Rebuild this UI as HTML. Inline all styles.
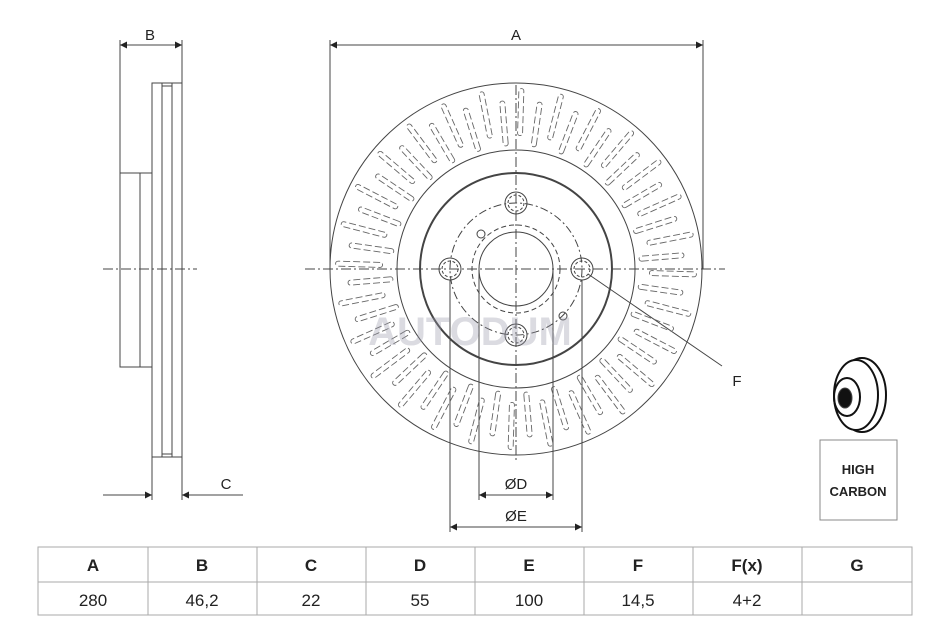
<!DOCTYPE html>
<html><head><meta charset="utf-8"><style>
body{margin:0;background:#fff;width:950px;height:634px;overflow:hidden}
svg{display:block}
text{font-family:"Liberation Sans",Arial,sans-serif;fill:#222}
</style></head><body>
<svg id="s" width="950" height="634" viewBox="0 0 950 634" xmlns="http://www.w3.org/2000/svg">
<defs><marker id="ar" viewBox="0 0 10 10" refX="10" refY="5" markerWidth="10" markerHeight="7" orient="auto-start-reverse" markerUnits="userSpaceOnUse"><path d="M0,0L10,5L0,10z" fill="#222"/></marker></defs>
<g stroke="#444" stroke-width="1" fill="none">
<!-- side view -->
<line x1="120" y1="40" x2="120" y2="173"/><line x1="182" y1="40" x2="182" y2="83"/>
<line x1="120" y1="45" x2="182" y2="45" marker-start="url(#ar)" marker-end="url(#ar)"/>
<rect x="152" y="83" width="30" height="374"/>
<line x1="162" y1="83" x2="162" y2="457"/><line x1="172" y1="83" x2="172" y2="457"/>
<line x1="162" y1="86" x2="172" y2="86"/><line x1="162" y1="454" x2="172" y2="454"/>
<rect x="120" y="173" width="32" height="194"/><line x1="140" y1="173" x2="140" y2="367"/>
<line x1="152" y1="457" x2="152" y2="500"/><line x1="182" y1="457" x2="182" y2="500"/>
<line x1="103" y1="495" x2="152" y2="495" marker-end="url(#ar)"/>
<line x1="243" y1="495" x2="182" y2="495" marker-end="url(#ar)"/>
<line x1="103" y1="269" x2="197" y2="269" stroke-dasharray="10,3,2,3"/>
<!-- front -->
<line x1="330" y1="40" x2="330" y2="269"/><line x1="703" y1="40" x2="703" y2="269"/>
<line x1="330" y1="45" x2="703" y2="45" marker-start="url(#ar)" marker-end="url(#ar)"/>
<circle cx="516" cy="269" r="186"/>
<circle cx="516" cy="269" r="119"/>
<circle cx="516" cy="269" r="96" stroke-width="2"/>
<circle cx="516" cy="269" r="37"/>
<circle cx="516" cy="269" r="44" stroke-dasharray="5,3"/>
<circle cx="516" cy="269" r="66" stroke-dasharray="8,3,2,3"/>
<line x1="305" y1="269" x2="725" y2="269" stroke-dasharray="10,3,2,3"/>
<line x1="516" y1="85" x2="516" y2="460" stroke-dasharray="10,3,2,3"/>
<circle cx="450" cy="269" r="11"/><circle cx="450" cy="269" r="8" stroke-dasharray="3,2"/>
<circle cx="582" cy="269" r="11"/><circle cx="582" cy="269" r="8" stroke-dasharray="3,2"/>
<circle cx="516" cy="203" r="11"/><circle cx="516" cy="203" r="8" stroke-dasharray="3,2"/>
<circle cx="516" cy="335" r="11"/><circle cx="516" cy="335" r="8" stroke-dasharray="3,2"/>
<circle cx="481" cy="234" r="4"/><circle cx="563" cy="316" r="4"/>
<line x1="450" y1="280" x2="450" y2="532"/><line x1="582" y1="280" x2="582" y2="532"/>
<line x1="479" y1="269" x2="479" y2="500"/><line x1="553" y1="269" x2="553" y2="500"/>
<line x1="479" y1="495" x2="553" y2="495" marker-start="url(#ar)" marker-end="url(#ar)"/>
<line x1="450" y1="527" x2="582" y2="527" marker-start="url(#ar)" marker-end="url(#ar)"/>
<line x1="588" y1="274" x2="722" y2="366"/>
<g id="slots" stroke="#666" stroke-width="0.9"></g>
<!-- icon -->
<rect x="820" y="440" width="77" height="80" stroke="#888"/>
<ellipse cx="862" cy="395" rx="24" ry="37" fill="#fff" stroke="#111" stroke-width="2"/>
<ellipse cx="856" cy="395" rx="22" ry="35" fill="#fff" stroke="#111" stroke-width="2"/>
<ellipse cx="847" cy="397" rx="13" ry="19" stroke="#111" stroke-width="2"/>
<ellipse cx="845" cy="398" rx="7" ry="10" fill="#111"/>
</g>
<text x="150" y="40" font-size="15" text-anchor="middle">B</text>
<text x="516" y="40" font-size="15" text-anchor="middle">A</text>
<text x="226" y="489" font-size="15" text-anchor="middle">C</text>
<text x="737" y="386" font-size="15" text-anchor="middle">F</text>
<text x="516" y="489" font-size="15" text-anchor="middle">ØD</text>
<text x="516" y="521" font-size="15" text-anchor="middle">ØE</text>
<text x="858" y="474" font-size="13" font-weight="bold" text-anchor="middle">HIGH</text>
<text x="858" y="496" font-size="13" font-weight="bold" text-anchor="middle">CARBON</text>
<text x="470" y="345" font-size="40" font-weight="bold" text-anchor="middle" fill="#aab" opacity="0.35" style="fill:#99a">AUTODUM</text>
<!-- table -->
<g stroke="#aaa" fill="none"><rect x="38" y="547" width="874" height="68"/><line x1="38" y1="582" x2="912" y2="582"/>
<line x1="148" y1="547" x2="148" y2="615"/><line x1="257" y1="547" x2="257" y2="615"/><line x1="366" y1="547" x2="366" y2="615"/><line x1="475" y1="547" x2="475" y2="615"/><line x1="584" y1="547" x2="584" y2="615"/><line x1="693" y1="547" x2="693" y2="615"/><line x1="802" y1="547" x2="802" y2="615"/></g>
<g font-size="17" font-weight="bold" text-anchor="middle">
<text x="93" y="571">A</text><text x="202" y="571">B</text><text x="311" y="571">C</text><text x="420" y="571">D</text><text x="529" y="571">E</text><text x="638" y="571">F</text><text x="747" y="571">F(x)</text><text x="857" y="571">G</text></g>
<g font-size="17" text-anchor="middle">
<text x="93" y="606">280</text><text x="202" y="606">46,2</text><text x="311" y="606">22</text><text x="420" y="606">55</text><text x="529" y="606">100</text><text x="638" y="606">14,5</text><text x="747" y="606">4+2</text></g>
</svg>
<script>
var g=document.getElementById('slots'),n=56,s='';
for(var i=0;i<n;i++){var a=i*2*Math.PI/n+0.03;var r1=i%2?126:136,r2=i%2?166:178;
var c=Math.cos(a),sn=Math.sin(a),px=-sn*2.5,py=c*2.5;
var x1=516+c*r1,y1=269+sn*r1,x2=516+c*r2,y2=269+sn*r2;
s+='<path stroke-dasharray="7,3" d="M'+(x1+px)+','+(y1+py)+'L'+(x2+px)+','+(y2+py)+'A2.5,2.5 0 0 0 '+(x2-px)+','+(y2-py)+'L'+(x1-px)+','+(y1-py)+'A2.5,2.5 0 0 0 '+(x1+px)+','+(y1+py)+'"/>';}
g.innerHTML=s;
</script>
</body></html>
